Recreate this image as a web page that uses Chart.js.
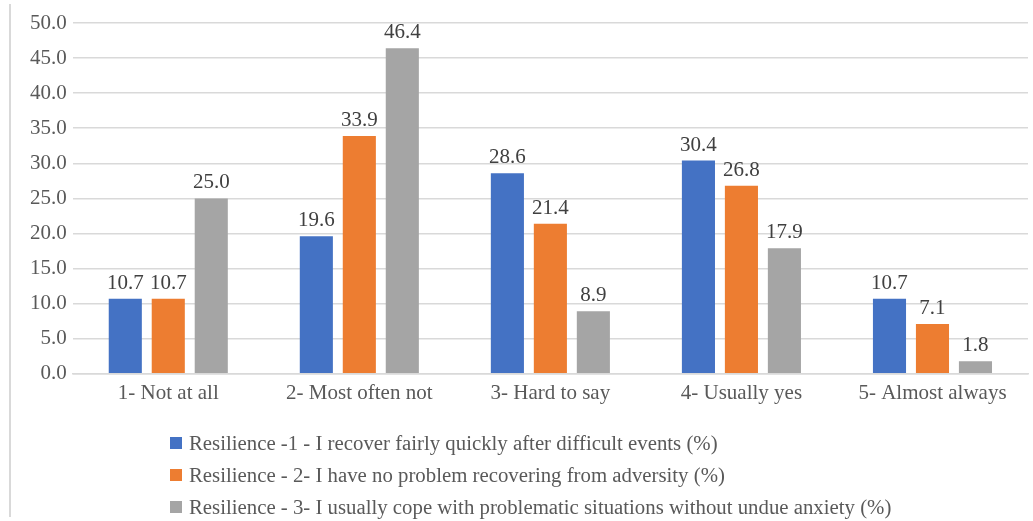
<!DOCTYPE html>
<html>
<head>
<meta charset="utf-8">
<script src="https://cdn.jsdelivr.net/npm/chart.js@4/dist/chart.umd.min.js"></script>
<style>
  html, body { margin: 0; padding: 0; background: #fff; }
  #wrap { position: relative; width: 1033px; height: 521px; overflow: hidden; }
  #frame { position: absolute; left: 9px; top: 4px; bottom: 4px; width: 0; border-left: 2px solid #d9d9d9; }
  canvas { position: absolute; left: 0; top: 0; }
  #legend { position: absolute; left: 170px; top: 427px; font-family: "Liberation Serif", serif; font-size: 20.8px; color: #595959; }
  #legend .item { display: flex; align-items: center; height: 32px; }
  #legend .box { width: 12px; height: 12px; margin-right: 7px; }
</style>
</head>
<body>
<div id="wrap">
  <div id="frame"></div>
  <canvas id="c" width="1033" height="521"></canvas>
  <div id="legend"></div>
</div>
<script>
const categories = ["1- Not at all", "2- Most often not", "3- Hard to say", "4- Usually yes", "5- Almost always"];
const seriesNames = [
  "Resilience -1 - I recover fairly quickly after difficult events (%)",
  "Resilience - 2- I have no problem recovering from adversity (%)",
  "Resilience - 3- I usually cope with problematic situations without undue anxiety (%)"
];
const resilience1 = [10.7, 19.6, 28.6, 30.4, 10.7];
const resilience2 = [10.7, 33.9, 21.4, 26.8, 7.1];
const resilience3 = [25.0, 46.4, 8.9, 17.9, 1.8];
const seriesColors = ["#4472C4", "#ED7D31", "#A5A5A5"];

const FONT = "Liberation Serif";

// Writes each bar's value above it
const valueLabels = {
  id: "valueLabels",
  afterDatasetsDraw(chart) {
    const ctx = chart.ctx;
    ctx.save();
    ctx.font = "21px '" + FONT + "'";
    ctx.fillStyle = "#404040";
    ctx.textAlign = "center";
    ctx.textBaseline = "bottom";
    chart.data.datasets.forEach((ds, i) => {
      chart.getDatasetMeta(i).data.forEach((bar, j) => {
        ctx.fillText(ds.data[j].toFixed(1), bar.x, bar.y - 5);
      });
    });
    ctx.restore();
  }
};

const datasets = [resilience1, resilience2, resilience3].map((d, i) => ({
  label: seriesNames[i],
  data: d,
  backgroundColor: seriesColors[i],
  barPercentage: 0.77,
  categoryPercentage: 0.675
}));

const chart = new Chart(document.getElementById("c"), {
  type: "bar",
  data: { labels: categories, datasets },
  options: {
    responsive: false,
    animation: false,
    devicePixelRatio: 1,
    layout: { padding: { left: 24, right: 5, top: 23, bottom: 108 } },
    plugins: { legend: { display: false }, tooltip: { enabled: false } },
    scales: {
      x: {
        grid: { display: false, drawTicks: false },
        border: { display: true, color: "#d9d9d9", width: 1.5 },
        ticks: { color: "#595959", font: { family: FONT, size: 21 }, padding: 7 }
      },
      y: {
        min: 0, max: 50,
        grid: { color: "#d9d9d9", lineWidth: 1.5, drawTicks: false },
        border: { display: false },
        ticks: {
          stepSize: 5,
          color: "#595959",
          font: { family: FONT, size: 21 },
          padding: 6,
          callback: v => v.toFixed(1)
        }
      }
    }
  },
  plugins: [valueLabels]
});

// Legend built from the chart's datasets
const legend = document.getElementById("legend");
chart.data.datasets.forEach(ds => {
  const item = document.createElement("div");
  item.className = "item";
  const box = document.createElement("span");
  box.className = "box";
  box.style.background = ds.backgroundColor;
  const txt = document.createElement("span");
  txt.textContent = ds.label;
  item.appendChild(box);
  item.appendChild(txt);
  legend.appendChild(item);
});
</script>
</body>
</html>
